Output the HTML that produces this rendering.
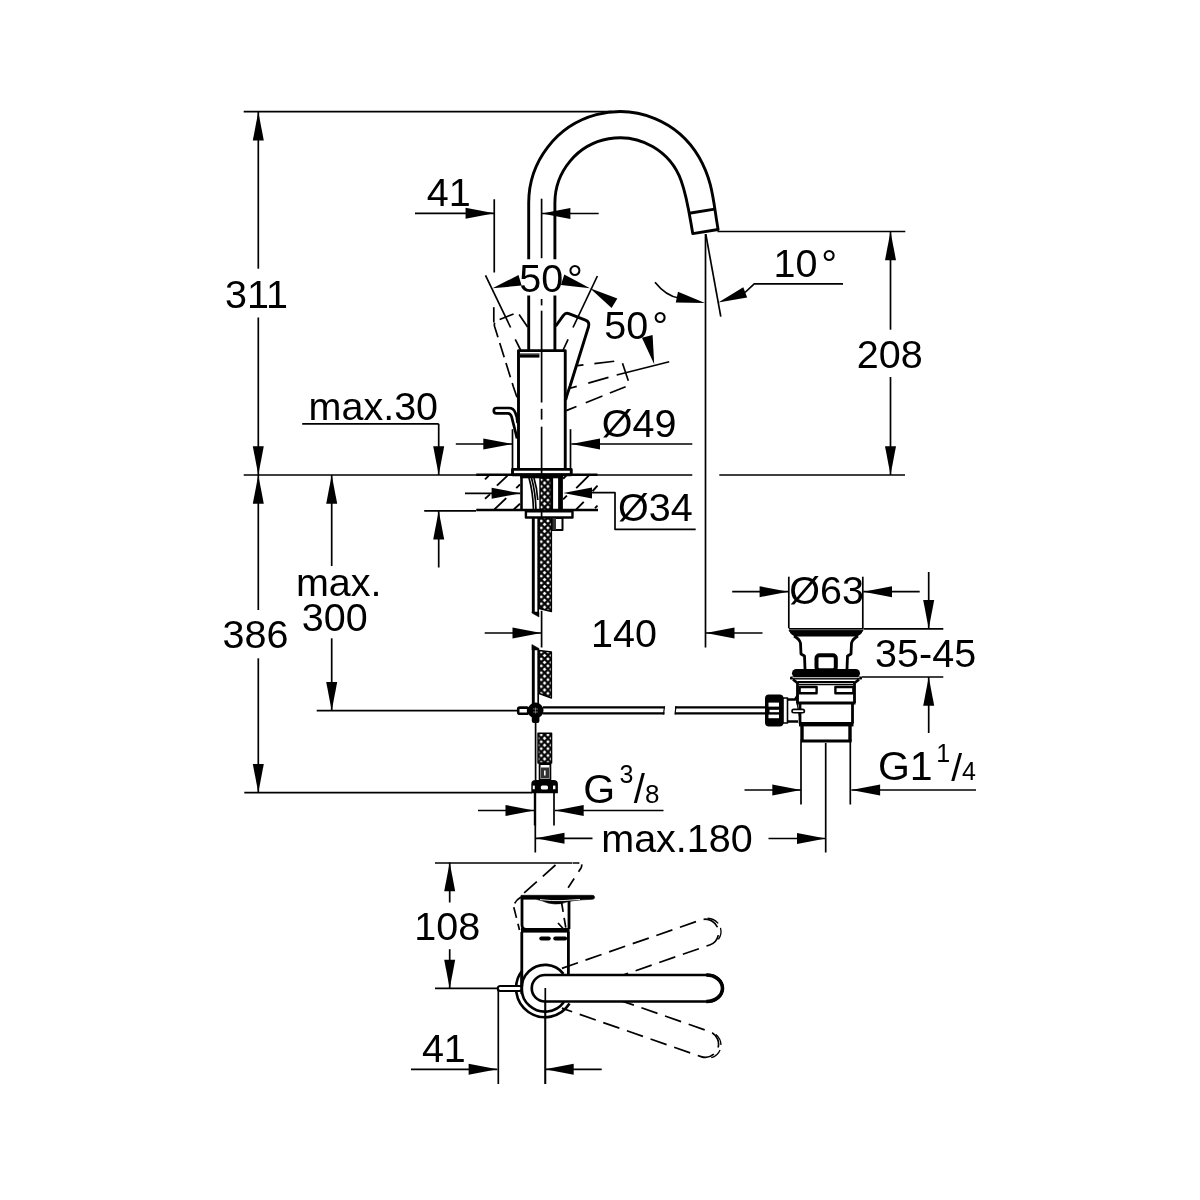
<!DOCTYPE html>
<html><head><meta charset="utf-8"><title>Drawing</title>
<style>
html,body{margin:0;padding:0;background:#fff;}
body{width:1200px;height:1200px;overflow:hidden;}
svg{display:block;will-change:transform;}
svg text{font-family:"Liberation Sans",sans-serif;fill:#000;stroke:none;}
</style></head><body>
<svg width="1200" height="1200" viewBox="0 0 1200 1200" stroke="#000" fill="none" stroke-linecap="butt" stroke-linejoin="round">
<rect x="0" y="0" width="1200" height="1200" fill="#fff" stroke="none"/>
<line x1="243.70" y1="111.70" x2="612.00" y2="111.70" stroke-width="1.7" />
<line x1="258.30" y1="112.00" x2="258.30" y2="268.70" stroke-width="1.7" />
<line x1="258.30" y1="317.50" x2="258.30" y2="475.00" stroke-width="1.7" />
<polygon points="258.30,111.70 263.80,140.40 252.80,140.40" fill="#000" stroke="none"/>
<polygon points="258.30,475.00 252.80,446.30 263.80,446.30" fill="#000" stroke="none"/>
<line x1="243.70" y1="475.00" x2="692.30" y2="475.00" stroke-width="1.7" />
<line x1="719.30" y1="475.00" x2="905.00" y2="475.00" stroke-width="1.7" />
<line x1="258.30" y1="475.00" x2="258.30" y2="610.00" stroke-width="1.7" />
<line x1="258.30" y1="658.30" x2="258.30" y2="792.70" stroke-width="1.7" />
<polygon points="258.30,475.00 263.80,503.70 252.80,503.70" fill="#000" stroke="none"/>
<polygon points="258.30,792.70 252.80,764.00 263.80,764.00" fill="#000" stroke="none"/>
<line x1="244.30" y1="792.70" x2="532.00" y2="792.70" stroke-width="1.7" />
<line x1="331.70" y1="475.00" x2="331.70" y2="566.00" stroke-width="1.7" />
<line x1="331.70" y1="638.30" x2="331.70" y2="710.70" stroke-width="1.7" />
<polygon points="331.70,475.00 337.20,503.70 326.20,503.70" fill="#000" stroke="none"/>
<polygon points="331.70,710.70 326.20,682.00 337.20,682.00" fill="#000" stroke="none"/>
<line x1="316.70" y1="710.70" x2="517.50" y2="710.70" stroke-width="1.7" />
<line x1="302.20" y1="423.80" x2="438.70" y2="423.80" stroke-width="1.7" />
<line x1="438.70" y1="423.80" x2="438.70" y2="475.00" stroke-width="1.7" />
<polygon points="438.70,475.00 433.20,446.30 444.20,446.30" fill="#000" stroke="none"/>
<polygon points="438.70,510.80 444.20,539.50 433.20,539.50" fill="#000" stroke="none"/>
<line x1="438.70" y1="510.80" x2="438.70" y2="567.50" stroke-width="1.7" />
<line x1="424.20" y1="510.80" x2="476.00" y2="510.80" stroke-width="1.7" />
<line x1="415.00" y1="213.30" x2="494.25" y2="213.30" stroke-width="1.7" />
<polygon points="494.25,213.30 465.55,218.80 465.55,207.80" fill="#000" stroke="none"/>
<line x1="494.25" y1="199.25" x2="494.25" y2="272.50" stroke-width="1.7" />
<polygon points="541.70,213.50 570.40,208.00 570.40,219.00" fill="#000" stroke="none"/>
<line x1="541.70" y1="213.50" x2="598.70" y2="213.50" stroke-width="1.7" />
<line x1="455.80" y1="444.00" x2="512.00" y2="444.00" stroke-width="1.7" />
<polygon points="512.00,444.00 483.30,449.50 483.30,438.50" fill="#000" stroke="none"/>
<polygon points="571.30,444.00 600.00,438.50 600.00,449.50" fill="#000" stroke="none"/>
<line x1="571.30" y1="444.00" x2="692.30" y2="444.00" stroke-width="1.7" />
<line x1="512.50" y1="429.20" x2="512.50" y2="469.00" stroke-width="1.7" />
<line x1="570.50" y1="429.20" x2="570.50" y2="469.00" stroke-width="1.7" />
<line x1="465.00" y1="493.30" x2="520.30" y2="493.30" stroke-width="1.7" />
<polygon points="520.30,493.30 491.60,498.80 491.60,487.80" fill="#000" stroke="none"/>
<polygon points="563.30,493.00 592.00,487.50 592.00,498.50" fill="#000" stroke="none"/>
<path d="M590.00,492.70 L615.00,492.70 L615.00,529.30 L695.70,529.30" stroke-width="1.7" fill="none" />
<line x1="484.70" y1="633.00" x2="541.20" y2="633.00" stroke-width="1.7" />
<polygon points="541.20,633.00 512.50,638.50 512.50,627.50" fill="#000" stroke="none"/>
<polygon points="705.80,633.00 734.50,627.50 734.50,638.50" fill="#000" stroke="none"/>
<line x1="705.80" y1="633.00" x2="762.50" y2="633.00" stroke-width="1.7" />
<line x1="705.50" y1="234.00" x2="705.50" y2="647.50" stroke-width="1.7" />
<line x1="717.50" y1="231.50" x2="905.30" y2="231.50" stroke-width="1.7" />
<line x1="890.50" y1="231.50" x2="890.50" y2="329.70" stroke-width="1.7" />
<line x1="890.50" y1="377.00" x2="890.50" y2="475.00" stroke-width="1.7" />
<polygon points="890.50,231.50 896.00,260.20 885.00,260.20" fill="#000" stroke="none"/>
<polygon points="890.50,475.00 885.00,446.30 896.00,446.30" fill="#000" stroke="none"/>
<line x1="705.80" y1="234.20" x2="720.80" y2="316.70" stroke-width="1.7" />
<path d="M843.00,283.80 L754.20,283.80 L745.00,292.50" stroke-width="1.7" fill="none" />
<polygon points="718.30,302.50 743.26,287.30 747.11,297.60" fill="#000" stroke="none"/>
<polygon points="705.00,303.00 675.78,302.62 677.99,291.84" fill="#000" stroke="none"/>
<path d="M655,282.2 Q666,296 679,298" stroke-width="1.7" fill="none"/>
<polygon points="492.50,288.30 518.53,275.01 521.59,285.57" fill="#000" stroke="none"/>
<polygon points="590.00,288.30 560.97,284.97 564.26,274.47" fill="#000" stroke="none"/>
<polygon points="590.00,288.30 617.34,298.61 611.60,307.99" fill="#000" stroke="none"/>
<polygon points="654.20,364.20 641.92,337.68 652.59,335.02" fill="#000" stroke="none"/>
<line x1="485.50" y1="275.30" x2="510.60" y2="327.50" stroke-width="1.7" />
<line x1="515.25" y1="339.40" x2="520.60" y2="350.00" stroke-width="1.7" />
<line x1="597.40" y1="276.00" x2="573.00" y2="327.50" stroke-width="1.7" />
<line x1="568.10" y1="339.40" x2="563.10" y2="350.00" stroke-width="1.7" />
<line x1="616.70" y1="375.00" x2="669.20" y2="361.70" stroke-width="1.7" />
<line x1="788.80" y1="576.70" x2="788.80" y2="628.30" stroke-width="1.7" />
<line x1="862.80" y1="576.70" x2="862.80" y2="628.30" stroke-width="1.7" />
<line x1="732.20" y1="591.70" x2="788.30" y2="591.70" stroke-width="1.7" />
<polygon points="788.30,591.70 759.60,597.20 759.60,586.20" fill="#000" stroke="none"/>
<polygon points="863.30,591.70 892.00,586.20 892.00,597.20" fill="#000" stroke="none"/>
<line x1="863.30" y1="591.70" x2="919.70" y2="591.70" stroke-width="1.7" />
<line x1="928.70" y1="572.00" x2="928.70" y2="628.80" stroke-width="1.7" />
<polygon points="928.70,628.80 923.20,600.10 934.20,600.10" fill="#000" stroke="none"/>
<line x1="863.30" y1="628.80" x2="943.30" y2="628.80" stroke-width="1.7" />
<line x1="861.70" y1="677.00" x2="943.30" y2="677.00" stroke-width="1.7" />
<polygon points="928.70,677.00 934.20,705.70 923.20,705.70" fill="#000" stroke="none"/>
<line x1="928.70" y1="677.00" x2="928.70" y2="733.00" stroke-width="1.7" />
<line x1="851.40" y1="790.00" x2="976.00" y2="790.00" stroke-width="1.7" />
<polygon points="851.40,790.00 880.10,784.50 880.10,795.50" fill="#000" stroke="none"/>
<line x1="744.50" y1="790.00" x2="801.00" y2="790.00" stroke-width="1.7" />
<polygon points="801.00,790.00 772.30,795.50 772.30,784.50" fill="#000" stroke="none"/>
<line x1="478.00" y1="810.50" x2="534.20" y2="810.50" stroke-width="1.7" />
<polygon points="534.20,810.50 505.50,816.00 505.50,805.00" fill="#000" stroke="none"/>
<polygon points="555.00,810.50 583.70,805.00 583.70,816.00" fill="#000" stroke="none"/>
<line x1="555.00" y1="810.50" x2="663.50" y2="810.50" stroke-width="1.7" />
<polygon points="535.80,838.30 564.50,832.80 564.50,843.80" fill="#000" stroke="none"/>
<line x1="535.80" y1="838.30" x2="592.50" y2="838.30" stroke-width="1.7" />
<line x1="768.50" y1="838.50" x2="825.70" y2="838.50" stroke-width="1.7" />
<polygon points="825.70,838.50 797.00,844.00 797.00,833.00" fill="#000" stroke="none"/>
<line x1="535.30" y1="825.00" x2="535.30" y2="852.50" stroke-width="1.7" />
<line x1="825.70" y1="743.00" x2="825.70" y2="852.50" stroke-width="1.7" />
<line x1="435.00" y1="863.00" x2="572.50" y2="863.00" stroke-width="1.7" />
<polygon points="449.70,862.50 455.20,891.20 444.20,891.20" fill="#000" stroke="none"/>
<line x1="449.70" y1="862.50" x2="449.70" y2="902.50" stroke-width="1.7" />
<line x1="449.70" y1="949.20" x2="449.70" y2="988.40" stroke-width="1.7" />
<polygon points="449.70,988.40 444.20,959.70 455.20,959.70" fill="#000" stroke="none"/>
<line x1="435.00" y1="988.40" x2="497.50" y2="988.40" stroke-width="1.7" />
<line x1="411.00" y1="1069.30" x2="497.30" y2="1069.30" stroke-width="1.7" />
<polygon points="497.30,1069.30 468.60,1074.80 468.60,1063.80" fill="#000" stroke="none"/>
<polygon points="545.00,1069.30 573.70,1063.80 573.70,1074.80" fill="#000" stroke="none"/>
<line x1="545.00" y1="1069.30" x2="601.70" y2="1069.30" stroke-width="1.7" />
<line x1="498.30" y1="988.00" x2="498.30" y2="1084.00" stroke-width="1.7" />
<line x1="545.30" y1="988.00" x2="545.30" y2="1084.00" stroke-width="1.7" />
<text x="225.12" y="307.90" font-size="39.5" letter-spacing="0.00">311</text>
<text x="222.62" y="648.00" font-size="39.5" letter-spacing="0.00">386</text>
<text><tspan x="295.94" y="596.30" font-size="39.5">max.</tspan><tspan x="301.72" y="630.80" font-size="39.5">300</tspan></text>
<text x="308.54" y="420.00" font-size="39.5" letter-spacing="0.00">max.30</text>
<text x="426.71" y="206.25" font-size="39.5" letter-spacing="0.00">41</text>
<text><tspan x="519.22" y="292.40" font-size="39.5">50</tspan><tspan x="566.93" y="292.40" font-size="39.5">°</tspan></text>
<text><tspan x="604.22" y="338.50" font-size="39.5">50</tspan><tspan x="652.13" y="338.50" font-size="39.5">°</tspan></text>
<text><tspan x="773.54" y="277.00" font-size="39.5">10</tspan><tspan x="821.13" y="277.00" font-size="39.5">°</tspan></text>
<text x="856.73" y="367.50" font-size="39.5" letter-spacing="0.00">208</text>
<text x="601.72" y="437.00" font-size="39.5" letter-spacing="0.00">Ø49</text>
<text x="618.12" y="521.30" font-size="39.5" letter-spacing="0.00">Ø34</text>
<text x="591.04" y="647.30" font-size="39.5" letter-spacing="0.00">140</text>
<text x="789.22" y="604.20" font-size="39.5" letter-spacing="0.00">Ø63</text>
<text x="875.12" y="666.70" font-size="39.5" letter-spacing="0.00">35-45</text>
<text><tspan x="877.95" y="780.40" font-size="41">G1</tspan><tspan x="936.30" y="762.30" font-size="25">1</tspan><tspan x="951.30" y="780.60" font-size="39">/</tspan><tspan x="962.00" y="780.40" font-size="25">4</tspan></text>
<text><tspan x="583.25" y="802.50" font-size="41">G</tspan><tspan x="619.60" y="783.00" font-size="25">3</tspan><tspan x="633.70" y="802.60" font-size="40">/</tspan><tspan x="645.00" y="802.60" font-size="26">8</tspan></text>
<text x="601.24" y="851.70" font-size="39.5" letter-spacing="0.00">max.180</text>
<text x="414.34" y="939.70" font-size="39.5" letter-spacing="0.00">108</text>
<text x="421.91" y="1061.70" font-size="39.5" letter-spacing="0.00">41</text>
<path d="M528.70,259.3 L528.70,202.9 A91.3,91.3 0 0 1 699.07,157.25 C713.07,181.50 713.24,201.92 718.1,229.5 L692.75,233.6 C689.63,215.87 687.33,197.55 681.17,180.63 A65.1,65.1 0 0 0 554.90,202.9 L554.90,259.3" stroke-width="2.9" fill="none"/>
<line x1="528.70" y1="295.50" x2="528.70" y2="350.00" stroke-width="2.9" />
<line x1="554.90" y1="295.50" x2="554.90" y2="350.00" stroke-width="2.9" />
<line x1="689.25" y1="213.20" x2="714.60" y2="209.10" stroke-width="2.9" />
<path d="M518.50,468.50 L518.50,350.60 L565.25,350.60 L565.25,468.50" stroke-width="2.9" fill="none" />
<rect x="520" y="353.6" width="19.4" height="4" fill="#000" stroke="none"/>
<rect x="520" y="353.2" width="19.4" height="1.3" fill="#777" stroke="none"/>
<path d="M512.50,469.40 L571.25,469.40 L571.25,474.75 L512.50,474.75 Z" stroke-width="2.9" fill="none" />
<line x1="541.60" y1="198.70" x2="541.60" y2="258.20" stroke-width="1.7" />
<line x1="541.60" y1="299.00" x2="541.60" y2="305.40" stroke-width="1.7" />
<line x1="541.60" y1="310.70" x2="541.60" y2="402.50" stroke-width="1.7" />
<line x1="541.60" y1="408.80" x2="541.60" y2="419.60" stroke-width="1.7" />
<line x1="541.60" y1="426.70" x2="541.60" y2="474.00" stroke-width="1.7" />
<line x1="541.60" y1="511.00" x2="541.60" y2="518.00" stroke-width="1.7" />
<line x1="541.60" y1="610.80" x2="541.60" y2="647.50" stroke-width="1.7" />
<path d="M555.6,326.25 L563.6,315.2 Q565.6,312.3 568.8,313.6 L585.5,320.2 Q589.8,322 588.6,326.5 L570,386.25 Q567.5,393 565.6,400" stroke-width="2.9" fill="none"/>
<g transform="translate(1083.2,0) scale(-1,1)"><path d="M555.6,327 L563.6,315.2 Q565.6,312.3 568.8,313.6 L585.5,320.2 Q589.8,322 588.6,326.5 L570,386.25 L566,398" stroke-width="1.7" fill="none" stroke-dasharray="15 6"/></g>
<line x1="493.80" y1="307.20" x2="493.80" y2="322.50" stroke-width="1.7" />
<line x1="577.50" y1="365.60" x2="622.00" y2="360.30" stroke-width="1.7" stroke-dasharray="6 11 20 100"/>
<line x1="570.00" y1="388.30" x2="616.70" y2="375.00" stroke-width="1.7" stroke-dasharray="7 12 21 100"/>
<line x1="566.25" y1="410.60" x2="626.00" y2="386.60" stroke-width="1.7" stroke-dasharray="11 10 18 8 17 100"/>
<line x1="622.50" y1="363.30" x2="628.30" y2="380.80" stroke-width="1.7" />
<path d="M496.5,408 L509,408 Q513.5,408 515.2,412.5 L516.8,417 L517.6,423 M496.5,413.4 L508,413.4 Q510.6,413.6 511.6,416.6 L513.3,423.3 L515.4,431.7 L517,438.5 M496.5,408 Q493.8,408 493.8,410.7 Q493.8,413.4 496.5,413.4" stroke-width="2.7" fill="none"/>
<line x1="476.25" y1="474.75" x2="597.50" y2="474.75" stroke-width="2.4" />
<line x1="476.25" y1="510.00" x2="598.00" y2="510.00" stroke-width="2.4" />
<line x1="485.00" y1="479.40" x2="488.75" y2="475.60" stroke-width="1.9" />
<line x1="496.90" y1="485.60" x2="507.50" y2="475.60" stroke-width="1.9" />
<line x1="485.00" y1="498.75" x2="490.00" y2="494.40" stroke-width="1.9" />
<line x1="494.40" y1="509.40" x2="506.25" y2="498.10" stroke-width="1.9" />
<line x1="516.25" y1="488.10" x2="520.00" y2="484.40" stroke-width="1.9" />
<line x1="513.75" y1="509.40" x2="520.00" y2="503.75" stroke-width="1.9" />
<line x1="563.10" y1="478.75" x2="566.25" y2="475.60" stroke-width="1.9" />
<line x1="563.10" y1="499.40" x2="566.90" y2="495.60" stroke-width="1.9" />
<line x1="576.25" y1="488.10" x2="588.75" y2="475.60" stroke-width="1.9" />
<line x1="576.25" y1="509.40" x2="583.75" y2="501.90" stroke-width="1.9" />
<line x1="592.50" y1="491.25" x2="597.50" y2="485.60" stroke-width="1.9" />
<line x1="595.00" y1="508.10" x2="597.50" y2="505.60" stroke-width="1.9" />
<line x1="521.50" y1="475.00" x2="521.50" y2="510.00" stroke-width="2.6" />
<rect x="558.1" y="475" width="4.8" height="35.5" fill="#000" stroke="none"/>
<rect x="520.3" y="474.5" width="42.6" height="3.8" fill="#000" stroke="none"/>
<line x1="552.00" y1="478.00" x2="552.00" y2="510.00" stroke-width="2.2" />
<path d="M529,478 Q533,492 533.5,510 M531.5,478 Q535.5,492 536,510 M534,478 Q537,488 537.8,500" stroke-width="1.7" fill="none"/>
<path d="M525.90,511.25 L572.50,511.25 L572.50,517.50 L525.90,517.50 Z" stroke-width="2.4" fill="none" />
<rect x="552.5" y="518" width="10" height="12" fill="#fff" stroke="#000" stroke-width="2"/>
<rect x="552.5" y="518" width="3.5" height="12" fill="#333" stroke="none"/>
<defs><pattern id="mesh" x="541.25" y="3.45" width="6.67" height="6.9" patternUnits="userSpaceOnUse"><rect width="6.67" height="6.9" fill="#000"/><path d="M0.00,-2.55 L2.55,0.00 L0.00,2.55 L-2.55,0.00Z M6.67,-2.55 L9.22,0.00 L6.67,2.55 L4.12,0.00Z M0.00,4.35 L2.55,6.90 L0.00,9.45 L-2.55,6.90Z M6.67,4.35 L9.22,6.90 L6.67,9.45 L4.12,6.90Z M3.33,0.90 L5.88,3.45 L3.33,6.00 L0.79,3.45Z" fill="#fff"/></pattern></defs>
<path d="M540,478 L551,478 L551,510 L540,510 Z" fill="url(#mesh)" stroke="#000" stroke-width="1.4"/>
<path d="M539.2,518 L551.4,518 L551.4,611.5 L539.2,608.5 Z" fill="url(#mesh)" stroke="#000" stroke-width="1.4"/>
<path d="M539.2,650.5 L551.4,652.0 L551.4,698 L539.2,693.5 Z" fill="url(#mesh)" stroke="#000" stroke-width="1.4"/>
<path d="M538,733.3 L551.6,733.3 L551.6,763 L538,763 Z" fill="url(#mesh)" stroke="#000" stroke-width="1.4"/>
<line x1="533.30" y1="517.50" x2="533.30" y2="612.00" stroke-width="2.9" />
<line x1="538.20" y1="517.50" x2="538.20" y2="612.00" stroke-width="1.7" />
<path d="M531.9,612 L531.9,613 L539,617 L539,612 Z" stroke-width="0.5" fill="#000"/>
<line x1="533.30" y1="650.00" x2="533.30" y2="704.00" stroke-width="2.9" />
<line x1="538.20" y1="650.00" x2="538.20" y2="704.00" stroke-width="1.7" />
<path d="M531.9,650 L531.9,644.5 L539,648.5 L539,650 Z" stroke-width="0.5" fill="#000"/>
<rect x="518.2" y="707.6" width="10" height="6.2" rx="1.5" fill="#fff" stroke="#000" stroke-width="2.6"/>
<circle cx="535.6" cy="710.5" r="7.9" fill="#000" stroke="none"/>
<rect x="531.8" y="714" width="7.6" height="9" rx="2" fill="#000" stroke="none"/>
<path d="M533,709 h5 M533,712 h5 M535.5,707.5 v6" stroke="#aaa" stroke-width="0.6"/>
<line x1="543.00" y1="707.30" x2="664.50" y2="707.30" stroke-width="2.2" />
<line x1="543.00" y1="713.40" x2="664.50" y2="713.40" stroke-width="2.2" />
<line x1="675.00" y1="707.30" x2="765.00" y2="707.30" stroke-width="2.2" />
<line x1="675.00" y1="713.40" x2="765.00" y2="713.40" stroke-width="2.2" />
<line x1="664.50" y1="706.20" x2="663.50" y2="714.50" stroke-width="1.2" />
<line x1="676.00" y1="706.20" x2="675.00" y2="714.50" stroke-width="1.2" />
<line x1="535.60" y1="723.00" x2="535.60" y2="780.00" stroke-width="1.7" />
<rect x="539.6" y="764" width="10.8" height="16" fill="#fff" stroke="#000" stroke-width="1.8"/>
<rect x="541" y="767.5" width="8" height="11" fill="#333" stroke="none"/>
<rect x="544" y="770.5" width="1.6" height="5" fill="#fff" stroke="none"/>
<path d="M531.3,793.3 L531.3,784 Q531.3,780 535.5,780 L553.5,780 Q557.9,780 557.9,784 L557.9,793.3 Z" fill="#000" stroke="none"/>
<rect x="532.8" y="785.6" width="2" height="3.6" fill="#fff" stroke="none"/><rect x="540.8" y="785.4" width="7.2" height="4.2" rx="1.5" fill="#fff" stroke="none"/><rect x="553" y="785.6" width="2.4" height="3.6" fill="#fff" stroke="none"/>
<line x1="535.00" y1="793.00" x2="535.00" y2="825.40" stroke-width="2.4" />
<line x1="554.00" y1="793.00" x2="554.00" y2="825.40" stroke-width="1.7" />
<line x1="789.00" y1="628.80" x2="863.00" y2="628.80" stroke-width="1.4" />
<path d="M789,630.2 L863,630.2 L860.5,634 L857,636 L795,636 L791.5,634 Z" fill="#000" stroke="#000" stroke-width="1"/>
<path d="M794,636 Q799.5,639 800.5,643 L801,654 L804.5,656 L805,669" stroke-width="2.8" fill="none"/>
<path d="M858,636 Q852.5,639 851.5,643 L851,654 L847.5,656 L847,669" stroke-width="2.8" fill="none"/>
<rect x="816.5" y="655.3" width="19.3" height="15" rx="3" fill="none" stroke="#000" stroke-width="4"/>
<rect x="792" y="669" width="68" height="8.6" rx="4.3" fill="#000" stroke="none"/>
<rect x="790" y="676.6" width="72" height="3" rx="1.2" fill="#000" stroke="none"/>
<rect x="792.5" y="677.3" width="67" height="0.8" fill="#fff" stroke="none"/>
<path d="M793,679.5 L797.5,683 L797.5,703 M859,679.5 L854.5,683 L854.5,703" stroke-width="2.8" fill="none"/>
<line x1="797.50" y1="682.20" x2="854.50" y2="682.20" stroke-width="2.2" />
<line x1="799.00" y1="684.60" x2="853.00" y2="684.60" stroke-width="1.2" />
<rect x="799.6" y="687" width="17" height="6.2" fill="#fff" stroke="#000" stroke-width="2.4"/>
<rect x="835.4" y="687" width="18" height="6.2" fill="#fff" stroke="#000" stroke-width="2.4"/>
<line x1="796.50" y1="703.00" x2="855.50" y2="703.00" stroke-width="2.8" />
<path d="M800,703 L800,723.5 M852.5,703 L852.5,723.5" stroke-width="2.8" fill="none"/>
<rect x="799" y="722" width="54.5" height="4.4" fill="#000" stroke="none"/>
<path d="M802,725 L802,741.7 M850,725 L850,741.7" stroke-width="3.4" fill="none"/>
<line x1="800.50" y1="741.00" x2="851.50" y2="741.00" stroke-width="3.2" />
<line x1="801.00" y1="742.00" x2="801.00" y2="804.50" stroke-width="1.7" />
<line x1="850.30" y1="742.00" x2="850.30" y2="804.50" stroke-width="1.7" />
<rect x="765" y="694.5" width="18.5" height="32" rx="4" fill="#000" stroke="none"/>
<rect x="768.5" y="702.6" width="10.5" height="4" fill="#fff" stroke="none"/><rect x="769.5" y="709.8" width="9.5" height="2.4" fill="#fff" stroke="none"/><rect x="768.5" y="714.6" width="10.5" height="3.6" fill="#fff" stroke="none"/>
<rect x="783" y="698" width="4.5" height="25" fill="#fff" stroke="#000" stroke-width="1.6"/>
<path d="M787.5,699.5 L795,699.5 L798,695 M787.5,721.5 L798,721.5" stroke-width="2.4" fill="none"/>
<path d="M796.5,700 L800.5,722" stroke-width="1.2" fill="none"/>
<rect x="792" y="709.4" width="12.4" height="3.4" rx="1.7" fill="#fff" stroke="#000" stroke-width="1.6"/>
<path d="M573,863 L578,863 Q583.5,863 581,868 L564,894" stroke-width="1.7" stroke-dasharray="6 3 8 8 11 9 13 100"/>
<line x1="555.50" y1="865.00" x2="523.00" y2="894.00" stroke-width="1.7" stroke-dasharray="17 8"/>
<path d="M521,897 Q513,902 514,908 L519.5,930" stroke-width="1.7" fill="none" stroke-dasharray="9 4 11 6 12 100"/>
<path d="M561.5,902 L566,929" stroke-width="1.7" fill="none" stroke-dasharray="10 6"/>
<path d="M558,923 L563.5,929" stroke-width="1.7" fill="none"/>
<path d="M521,895.3 L592.5,895.3 Q594.6,895.3 594.6,897.3 Q594.6,899.3 592.5,899.3 Q570,900 562,903.5 Q555,904.8 548,903 Q542,900.5 536,899.3 L521,899.3 Z" fill="#000" stroke="#000" stroke-width="0.6"/>
<path d="M540,899.6 Q551,901 563,900.6 L580,899.4" stroke="#fff" stroke-width="0.9" fill="none"/>
<path d="M522,897 L522,925 Q522,929 526,929.5 M569,901 L569,929" stroke-width="2.8" fill="none"/>
<rect x="521" y="928" width="48.6" height="4.6" fill="#000" stroke="none"/>
<rect x="539.3" y="936.6" width="11.4" height="3.8" rx="1.9" fill="#000" stroke="none"/><rect x="553.3" y="936.6" width="13.8" height="3.8" rx="1.9" fill="#000" stroke="none"/>
<line x1="521.80" y1="932.00" x2="521.80" y2="986.00" stroke-width="2.8" />
<line x1="568.40" y1="932.00" x2="568.40" y2="975.00" stroke-width="2.8" />
<path d="M569.51,1003.56 A28.9,28.9 0 1 1 522.23,970.46" stroke-width="2.6" fill="none"/>
<path d="M563.93,1002.00 A23.4,23.4 0 1 1 563.44,973.84" stroke-width="2.6" fill="none"/>
<g transform="rotate(-19.2 545 988.25) translate(5.5,0)"><path d="M562,975.0 L709.25,975.0 A13.25,13.25 0 0 1 709.25,1001.5 L562,1001.5" stroke-width="1.7" stroke-dasharray="17 8"/><path d="M710.25,974.5 A14.85,13.75 0 0 1 710.25,1002.0" stroke-width="1.3" stroke-dasharray="0 6 12 5 12 100"/></g>
<g transform="rotate(19.2 545 988.25) translate(5.5,0)"><path d="M562,975.0 L709.25,975.0 A13.25,13.25 0 0 1 709.25,1001.5 L562,1001.5" stroke-width="1.7" stroke-dasharray="17 8"/><path d="M710.25,974.5 A14.85,13.75 0 0 1 710.25,1002.0" stroke-width="1.3" stroke-dasharray="0 6 12 5 12 100"/></g>
<path d="M545,975.0 L709.25,975.0 A13.25,13.25 0 0 1 709.25,1001.5 L545,1001.5 A13.25,13.25 0 0 1 545,975.0 Z" stroke-width="2.7" fill="#fff"/>
<path d="M706.25,975.0 A16.25,13.25 0 0 1 706.25,1001.5" stroke-width="3.6" fill="none"/>
<rect x="497.8" y="986" width="24" height="5" rx="2.5" fill="#fff" stroke="#000" stroke-width="2.1"/>
<line x1="521.80" y1="975.00" x2="521.80" y2="994.00" stroke-width="2.8" />
<line x1="545.30" y1="988.00" x2="545.30" y2="1084.00" stroke-width="1.7" />
</svg>
</body></html>
